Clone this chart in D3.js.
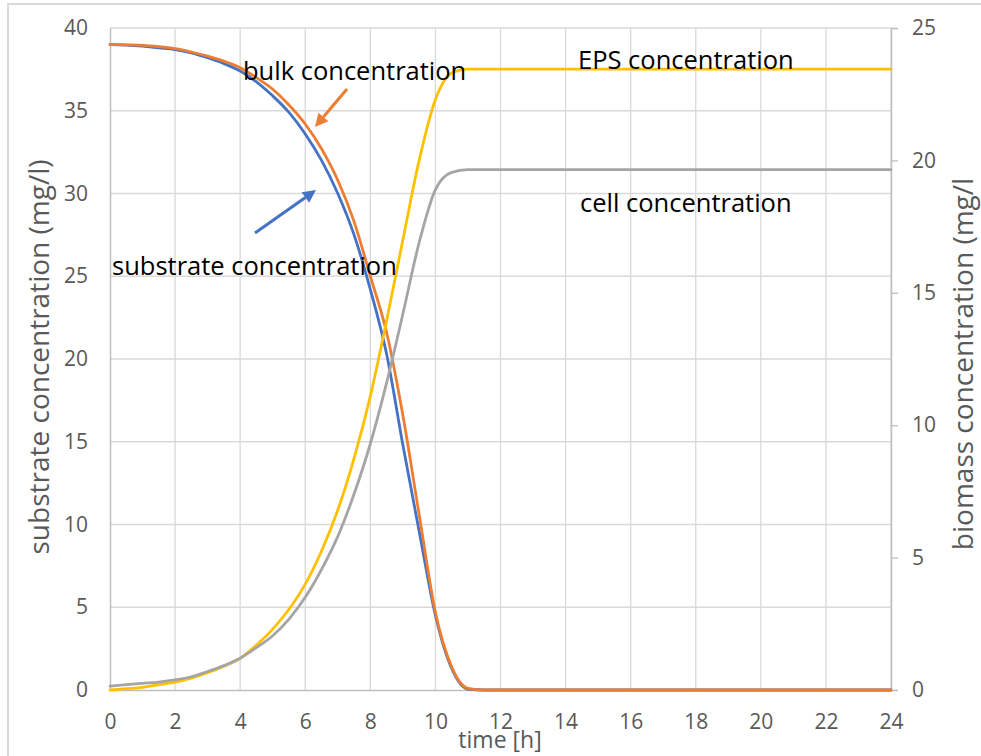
<!DOCTYPE html>
<html>
<head>
<meta charset="utf-8">
<script src="https://cdn.jsdelivr.net/npm/d3@7"></script>
<style>
  html, body { margin: 0; padding: 0; background: #fff; }
  svg { display: block; }
  text { font-family: "Open Sans", "Noto Sans", sans-serif; }
</style>
</head>
<body>
<svg id="chart" width="981" height="756"></svg>
<script>
// ---- data ----
const time = [0, 0.5, 1, 1.5, 2, 2.5, 3, 3.5, 4, 4.5, 5, 5.5, 6, 6.5, 7, 7.5, 8, 8.5, 9, 9.5, 10, 10.5, 11, 11.5, 12, 14, 16, 18, 20, 22, 24];
const substrate = [39.0, 38.97, 38.9, 38.8, 38.7, 38.5, 38.2, 37.85, 37.4, 36.75, 35.9, 34.9, 33.6, 32.0, 30.0, 27.5, 24.2, 20.3, 14.8, 9.6, 4.5, 1.3, 0.05, 0, 0, 0, 0, 0, 0, 0, 0];
const bulk      = [39.0, 38.98, 38.95, 38.87, 38.75, 38.55, 38.3, 38.0, 37.6, 37.0, 36.3, 35.35, 34.2, 32.7, 30.8, 28.3, 25.0, 21.6, 16.6, 10.6, 4.7, 1.4, 0.1, 0, 0, 0, 0, 0, 0, 0, 0];
const eps       = [0.0, 0.05, 0.1, 0.2, 0.3, 0.45, 0.65, 0.9, 1.2, 1.7, 2.3, 3.05, 4.0, 5.25, 6.8, 8.75, 11.1, 13.95, 17.0, 20.0, 22.3, 23.3, 23.45, 23.45, 23.45, 23.45, 23.45, 23.45, 23.45, 23.45, 23.45];
const cells     = [0.15, 0.2, 0.25, 0.3, 0.38, 0.5, 0.7, 0.92, 1.2, 1.6, 2.05, 2.68, 3.5, 4.55, 5.8, 7.4, 9.3, 11.6, 14.2, 16.9, 18.9, 19.55, 19.65, 19.65, 19.65, 19.65, 19.65, 19.65, 19.65, 19.65, 19.65];
const xTicks = [0, 2, 4, 6, 8, 10, 12, 14, 16, 18, 20, 22, 24];
const yLeftTicks = [0, 5, 10, 15, 20, 25, 30, 35, 40];
const yRightTicks = [0, 5, 10, 15, 20, 25];
const labels = {
  bulk: "bulk concentration",
  substrate: "substrate concentration",
  eps: "EPS concentration",
  cells: "cell concentration",
  xTitle: "time [h]",
  yLeftTitle: "substrate concentration (mg/l)",
  yRightTitle: "biomass concentration (mg/l"
};
const colors = { substrate: "#4472C4", bulk: "#ED7D31", eps: "#FFC000", cells: "#A5A5A5" };

// ---- layout ----
const svg = d3.select("#chart");
const L = 110, R = 891, T = 28, B = 690;
const x = d3.scaleLinear().domain([0, 24]).range([L, R]);
const yL = d3.scaleLinear().domain([0, 40]).range([B, T]);
const yR = d3.scaleLinear().domain([0, 25]).range([B, T]);
const textGray = "#595959";

// chart border
svg.append("path").attr("d", "M8,760 V4 H990")
  .attr("fill", "none").attr("stroke", "#d9d9d9").attr("stroke-width", 2);

// gridlines
const grid = svg.append("g");
grid.selectAll(".vg").data(xTicks.slice(1)).join("line")
  .attr("x1", d => x(d)).attr("x2", d => x(d)).attr("y1", T).attr("y2", B)
  .attr("stroke", "#d9d9d9").attr("stroke-width", 1.3);
grid.selectAll(".hg").data(yLeftTicks.slice(1)).join("line")
  .attr("x1", L).attr("x2", R).attr("y1", d => yL(d)).attr("y2", d => yL(d))
  .attr("stroke", "#d9d9d9").attr("stroke-width", 1.3);

// axes
const axL = svg.append("g").attr("transform", `translate(${L},0)`)
  .call(d3.axisLeft(yL).tickValues(yLeftTicks).tickSize(0).tickPadding(22));
const axR = svg.append("g").attr("transform", `translate(${R},0)`)
  .call(d3.axisRight(yR).tickValues(yRightTicks).tickSize(7).tickPadding(14));
const axB = svg.append("g").attr("transform", `translate(0,${B})`)
  .call(d3.axisBottom(x).tickValues(xTicks).tickSize(0).tickPadding(24));
[axL, axR, axB].forEach(a => {
  a.select(".domain").attr("stroke", "#bfbfbf").attr("stroke-width", 1.5);
  a.selectAll(".tick line").attr("stroke", "#bfbfbf").attr("stroke-width", 1.3);
  a.selectAll(".tick text").attr("fill", textGray).attr("font-size", 21)
    .attr("font-family", "Open Sans, sans-serif");
});

// axis titles
svg.append("text").attr("transform", `translate(49,357) rotate(-90)`)
  .attr("text-anchor", "middle").attr("fill", textGray).attr("font-size", 28)
  .text(labels.yLeftTitle);
svg.append("text").attr("transform", `translate(973,364) rotate(-90)`)
  .attr("text-anchor", "middle").attr("fill", textGray).attr("font-size", 28)
  .text(labels.yRightTitle);
svg.append("text").attr("x", 500).attr("y", 748)
  .attr("text-anchor", "middle").attr("fill", textGray).attr("font-size", 23)
  .text(labels.xTitle);

// series
const pts = arr => time.map((t, i) => [t, arr[i]]);
const lineL = d3.line().x(d => x(d[0])).y(d => yL(d[1])).curve(d3.curveMonotoneX);
const lineR = d3.line().x(d => x(d[0])).y(d => yR(d[1])).curve(d3.curveMonotoneX);
const series = [
  { data: substrate, line: lineL, color: colors.substrate },
  { data: bulk, line: lineL, color: colors.bulk },
  { data: eps, line: lineR, color: colors.eps },
  { data: cells, line: lineR, color: colors.cells }
];
svg.append("g").selectAll("path").data(series).join("path")
  .attr("d", s => s.line(pts(s.data)))
  .attr("fill", "none").attr("stroke", s => s.color)
  .attr("stroke-width", 2.8).attr("stroke-linejoin", "round").attr("stroke-linecap", "round");

// annotations
const ann = svg.append("g").attr("fill", "#000").attr("font-size", 25.5);
ann.append("text").attr("x", 243).attr("y", 80).text(labels.bulk);
ann.append("text").attr("x", 112).attr("y", 275).text(labels.substrate);
ann.append("text").attr("x", 578).attr("y", 69).text(labels.eps);
ann.append("text").attr("x", 580).attr("y", 212).text(labels.cells);

// arrows
function arrow(x1, y1, x2, y2, color) {
  const ang = Math.atan2(y2 - y1, x2 - x1);
  const hl = 13, hw = 6.5;
  const bx = x2 - hl * Math.cos(ang), by = y2 - hl * Math.sin(ang);
  svg.append("line").attr("x1", x1).attr("y1", y1).attr("x2", bx).attr("y2", by)
    .attr("stroke", color).attr("stroke-width", 3);
  const px = -Math.sin(ang) * hw, py = Math.cos(ang) * hw;
  svg.append("path")
    .attr("d", `M${x2},${y2} L${bx + px},${by + py} L${bx - px},${by - py} Z`)
    .attr("fill", color);
}
arrow(347, 89, 315, 127, colors.bulk);
arrow(255, 233, 316, 190, colors.substrate);
</script>
</body>
</html>
